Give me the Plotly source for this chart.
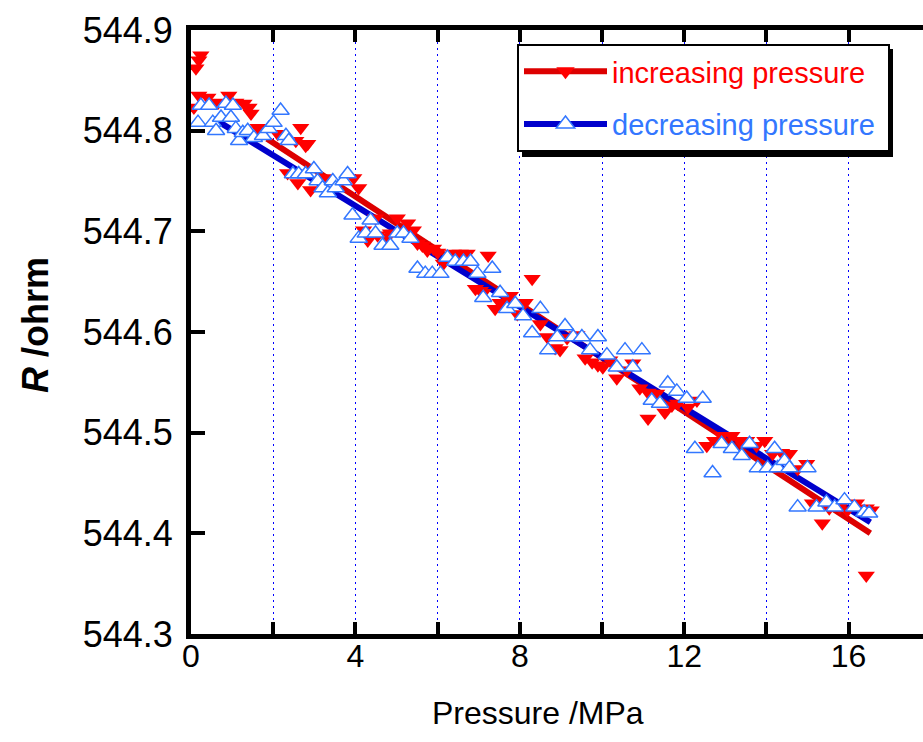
import plotly.graph_objects as go

# ---------------- data ----------------
inc_p = [0.24, 0.19, 0.12, 0.19, 0.41, 0.92, 0.07, 0.66, 1.09, 1.29, 1.41, 1.46,
         1.63, 1.82, 2.11, 2.67, 2.55, 2.84, 2.79, 2.35, 2.60, 2.91, 3.23, 3.96, 4.08,
         4.20, 4.30, 4.49, 4.54, 4.78, 4.85, 5.02, 5.27, 5.41, 5.51, 5.63, 5.75, 5.90, 6.00,
         6.14, 6.38, 6.55, 6.72, 7.23, 8.30, 6.92, 7.04, 7.11, 7.40, 7.52, 7.69, 7.77,
         7.94, 8.13, 8.50, 8.67, 8.86, 8.98, 9.15, 9.39, 9.59, 9.76, 9.90, 10.02, 10.19,
         10.36, 10.61, 10.75, 10.92, 11.12, 11.12, 11.33, 11.53, 11.70, 11.84, 12.09, 12.31,
         12.55, 12.74, 12.91, 13.16, 13.35, 13.52, 13.76, 13.96, 14.15, 14.37, 14.56, 14.76, 14.98,
         15.12, 15.36, 15.53, 15.78, 15.97, 16.19, 16.43, 16.55, 16.43]
inc_r = [544.875, 544.870, 544.862, 544.835, 544.833, 544.835, 544.823, 544.828, 544.828, 544.827, 544.823, 544.817,
         544.803, 544.802, 544.797, 544.803, 544.790, 544.787, 544.785, 544.758, 544.748, 544.741, 544.753, 544.753, 544.743,
         544.701, 544.691, 544.713, 544.696, 544.694, 544.698, 544.713, 544.708, 544.701, 544.688, 544.686, 544.681, 544.683, 544.679,
         544.668, 544.678, 544.678, 544.678, 544.676, 544.653, 544.643, 544.641, 544.639, 544.623, 544.629, 544.634, 544.636,
         544.618, 544.629, 544.608, 544.595, 544.584, 544.582, 544.594, 544.597, 544.574, 544.570, 544.567, 544.565, 544.572,
         544.554, 544.562, 544.569, 544.544, 544.540, 544.514, 544.539, 544.520, 544.527, 544.529, 544.525, 544.532,
         544.487, 544.492, 544.497, 544.497, 544.492, 544.492, 544.487, 544.492, 544.479, 544.480, 544.479, 544.464, 544.469,
         544.430, 544.410, 544.425, 544.426, 544.423, 544.430, 544.425, 544.423, 544.358]

dec_p = [0.24, 0.44, 0.85, 1.02, 0.17, 0.53, 0.61, 0.73, 0.97, 1.09, 1.17, 1.26, 1.38, 1.53,
         1.75, 1.89, 2.01, 2.18, 2.31, 2.38, 2.48, 2.62, 2.79, 2.99, 3.08, 3.20, 3.33, 3.45,
         3.52, 3.71, 3.81, 3.93, 4.08, 4.25, 4.37, 4.49, 4.66, 4.85, 5.02, 5.17, 5.34,
         5.51, 5.70, 5.87, 6.07, 6.24, 6.43, 6.63, 6.80, 6.97, 7.11, 7.33, 7.52, 7.69, 7.89,
         8.08, 8.30, 8.50, 8.69, 8.91, 9.10, 9.30, 9.51, 9.71, 9.90, 10.12, 10.36, 10.56,
         10.75, 10.97, 11.21, 11.41, 11.60, 11.82, 12.06, 12.45, 12.26, 12.69, 12.91, 13.16,
         13.40, 13.59, 13.79, 14.03, 14.20, 14.27, 14.44, 14.56, 15.00, 14.76, 15.22, 15.46,
         15.66, 15.90, 16.14, 16.38, 16.50]
dec_r = [544.825, 544.825, 544.827, 544.825, 544.808, 544.808, 544.800, 544.813, 544.813, 544.802, 544.790, 544.798, 544.800, 544.793,
         544.795, 544.802, 544.808, 544.820, 544.795, 544.790, 544.757, 544.757, 544.757, 544.762, 544.750, 544.743, 544.738, 544.750,
         544.743, 544.750, 544.757, 544.716, 544.693, 544.698, 544.711, 544.698, 544.686, 544.686, 544.698, 544.698, 544.693,
         544.663, 544.658, 544.658, 544.658, 544.674, 544.670, 544.670, 544.670, 544.658, 544.634, 544.663, 544.639, 544.623, 544.628,
         544.616, 544.599, 544.623, 544.582, 544.595, 544.606, 544.595, 544.595, 544.582, 544.595, 544.577, 544.565, 544.582,
         544.565, 544.582, 544.532, 544.529, 544.549, 544.541, 544.534, 544.534, 544.484, 544.460, 544.489, 544.484,
         544.477, 544.489, 544.465, 544.465, 544.484, 544.465, 544.472, 544.465, 544.465, 544.426, 544.426, 544.431,
         544.426, 544.433, 544.426, 544.421, 544.420]

inc_fit_p = [1.85, 16.53]
inc_fit_r = [544.792, 544.400]
dec_fit_p = [0.55, 16.53]
dec_fit_r = [544.812, 544.411]

x_tickvals = [0, 2, 4, 6, 8, 10, 12, 14, 16]
x_ticktext = ["0", "", "4", "", "8", "", "12", "", "16"]
y_tickvals = [544.3, 544.4, 544.5, 544.6, 544.7, 544.8, 544.9]

RED = "#ff0000"
RED_LINE = "#dd0000"
BLUE_LINE = "#0000cc"
BLUE_MK = "#3377ff"

fig = go.Figure()
# fitted lines
fig.add_trace(go.Scatter(x=inc_fit_p, y=inc_fit_r, mode="lines", showlegend=False,
                         line=dict(color=RED_LINE, width=6)))
fig.add_trace(go.Scatter(x=dec_fit_p, y=dec_fit_r, mode="lines", showlegend=False,
                         line=dict(color=BLUE_LINE, width=6)))
# measured points
fig.add_trace(go.Scatter(x=inc_p, y=inc_r, mode="markers", showlegend=False,
                         marker=dict(symbol="triangle-down", size=15, color=RED, line=dict(width=0))))
fig.add_trace(go.Scatter(x=dec_p, y=dec_r, mode="markers", showlegend=False,
                         marker=dict(symbol="triangle-up", size=15, color="white",
                                     line=dict(color=BLUE_MK, width=1.5))))
# legend entries (line + symbol)
fig.add_trace(go.Scatter(x=[None], y=[None], mode="lines+markers", legendgroup="a",
                         name="<span style='color:#ff0000'>increasing pressure&nbsp;</span>",
                         line=dict(color=RED_LINE, width=6),
                         marker=dict(symbol="triangle-down", size=16, color=RED, line=dict(width=0))))
fig.add_trace(go.Scatter(x=[None], y=[None], mode="lines+markers", legendgroup="b",
                         name="<span style='color:#3377ff'>decreasing pressure&nbsp;</span>",
                         line=dict(color=BLUE_LINE, width=6),
                         marker=dict(symbol="triangle-up", size=16, color="white",
                                     line=dict(color=BLUE_MK, width=1.5))))

L, T, W, H = 191, 30, 923, 742
B = 108
pw = W - L
ph = H - T - B

def px_x(px):
    return (px - L) / pw

def px_y(py):
    return (H - B - py) / ph

fig.update_layout(
    width=W, height=H,
    margin=dict(l=L, r=0, t=T, b=B),
    plot_bgcolor="white", paper_bgcolor="white",
    font=dict(family="Liberation Sans, Arial, sans-serif", color="black"),
    xaxis=dict(range=[0, pw / 41.1], tickvals=x_tickvals, ticktext=x_ticktext,
               showline=True, linewidth=5, linecolor="black", mirror="ticks",
               ticks="inside", ticklen=12, tickwidth=4, tickcolor="black",
               showgrid=True, gridcolor="#0000ff", gridwidth=1, griddash="2px,4px",
               zeroline=False, ticklabelstandoff=-10,
               tickfont=dict(size=32)),
    yaxis=dict(range=[544.3, 544.9], tickvals=y_tickvals, tickformat=".1f",
               showline=True, linewidth=5, linecolor="black",
               ticks="inside", ticklen=14, tickwidth=4, tickcolor="black",
               showgrid=False, zeroline=False,
               tickfont=dict(size=36), ticklabelstandoff=6),
    yaxis2=dict(range=[544.3, 544.9], overlaying="y", side="right", tickvals=y_tickvals,
                showticklabels=False, showline=False, showgrid=False, zeroline=False,
                ticks="inside", ticklen=7, tickwidth=4, tickcolor="black"),
    showlegend=True,
    legend=dict(x=px_x(517), y=px_y(44), xanchor="left", yanchor="top",
                bgcolor="white", bordercolor="black", borderwidth=2,
                font=dict(size=29), itemwidth=83,
                tracegroupgap=12),
)

fig.add_shape(type="rect", xref="paper", yref="paper",
              x0=px_x(522), x1=px_x(893), y0=px_y(157), y1=px_y(49),
              fillcolor="black", line=dict(width=0), layer="above")

fig.add_annotation(text="<b><i>R</i> /ohrm</b>", xref="paper", yref="paper",
                   x=px_x(35), y=px_y(325), textangle=-90, showarrow=False,
                   xanchor="center", yanchor="middle",
                   font=dict(size=36, family="Liberation Sans, Arial, sans-serif"))
fig.add_annotation(text="Pressure /MPa", xref="paper", yref="paper",
                   x=px_x(538), y=px_y(713), showarrow=False,
                   xanchor="center", yanchor="middle",
                   font=dict(size=32, family="Liberation Sans, Arial, sans-serif"))

fig.write_html("out.html", config={"displayModeBar": False},
               post_script="document.body.style.margin='0';")
